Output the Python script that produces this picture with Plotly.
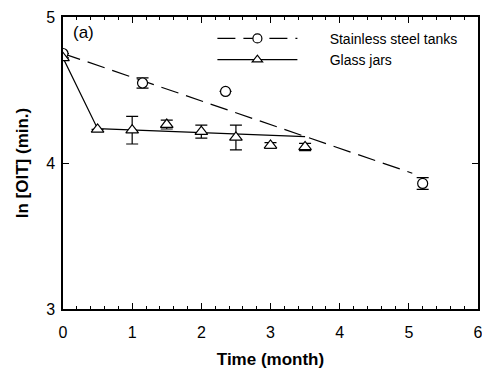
import plotly.graph_objects as go

# Stainless steel tanks (circles)
steel_t = [0.0, 1.15, 2.35, 5.2]
steel_v = [4.75, 4.548, 4.49, 3.86]
steel_err = [0.0, 0.035, 0.0, 0.04]
steel_fit_t = [0.0, 5.05]
steel_fit_v = [4.75, 3.93]

# Glass jars (triangles)
glass_t = [0.0, 0.5, 1.0, 1.5, 2.0, 2.5, 3.0, 3.5]
glass_v = [4.72, 4.23, 4.225, 4.263, 4.215, 4.175, 4.12, 4.11]
glass_err = [0.0, 0.0, 0.095, 0.03, 0.045, 0.085, 0.02, 0.025]
glass_fit_t = [0.0, 0.5, 3.5]
glass_fit_v = [4.72, 4.235, 4.18]

x_ticks = [0, 1, 2, 3, 4, 5, 6]
y_ticks = [3, 4, 5]

FONT = "Liberation Sans, Arial, sans-serif"
DASH = "18px,8px"
PAD = "\u00a0" * 7

circle_marker = dict(symbol="circle", size=10, color="white", line=dict(width=1.2, color="black"))
tri_marker = dict(symbol="triangle-up", size=11, color="white", line=dict(width=1.2, color="black"))

fig = go.Figure()

# fit lines
fig.add_trace(go.Scatter(x=steel_fit_t, y=steel_fit_v, mode="lines",
                         line=dict(color="black", width=1.2, dash=DASH),
                         showlegend=False, hoverinfo="skip"))
fig.add_trace(go.Scatter(x=glass_fit_t, y=glass_fit_v, mode="lines",
                         line=dict(color="black", width=1.2),
                         showlegend=False, hoverinfo="skip"))

# data points
fig.add_trace(go.Scatter(x=steel_t, y=steel_v, mode="markers", marker=circle_marker,
                         error_y=dict(type="data", array=steel_err, visible=True, color="black", thickness=1.2, width=6),
                         showlegend=False))
fig.add_trace(go.Scatter(x=glass_t, y=glass_v, mode="markers", marker=tri_marker,
                         error_y=dict(type="data", array=glass_err, visible=True, color="black", thickness=1.2, width=6),
                         showlegend=False))

# legend entries
fig.add_trace(go.Scatter(x=[None], y=[None], mode="lines+markers", name=PAD + "Stainless steel tanks",
                         line=dict(color="black", width=1.2, dash=DASH),
                         marker=dict(circle_marker, size=9)))
fig.add_trace(go.Scatter(x=[None], y=[None], mode="lines+markers", name=PAD + "Glass jars",
                         line=dict(color="black", width=1.2),
                         marker=dict(tri_marker, size=9)))

axis_common = dict(showline=True, linecolor="black", linewidth=1.5, mirror="allticks",
                   ticks="inside", ticklen=6, tickwidth=1, tickcolor="black",
                   showgrid=False, zeroline=False, automargin=False,
                   ticklabeloverflow="allow",
                   tickfont=dict(family=FONT, size=16, color="black"))

fig.update_xaxes(range=[0, 6], tickvals=x_ticks, **axis_common, ticklabelstandoff=8,
                 minor=dict(dtick=0.2, ticks="inside", ticklen=3, tickwidth=1, tickcolor="black", showgrid=False),
                 title=dict(text="<b>Time (month)</b>", font=dict(family=FONT, size=17, color="black"), standoff=13))
fig.update_yaxes(range=[3, 5], tickvals=y_ticks, **axis_common, ticklabelstandoff=3,
                 title=dict(text="<b>ln [OIT] (min.)</b>", font=dict(family=FONT, size=17, color="black"), standoff=13))

fig.add_annotation(text="(a)", xref="paper", yref="paper", x=0.02, y=0.985,
                   xanchor="left", yanchor="top", showarrow=False,
                   font=dict(family=FONT, size=17, color="black"))

# page body adds ~8px offset; compensate in size/margins
fig.update_layout(
    width=482, height=367,
    margin=dict(l=55, r=12, t=9, b=66),
    paper_bgcolor="white", plot_bgcolor="white",
    legend=dict(x=0.36, y=0.98, xanchor="left", yanchor="top", itemwidth=80,
                bgcolor="rgba(0,0,0,0)", tracegroupgap=0,
                font=dict(family=FONT, size=14, color="black")),
)

fig.write_html("out.html")
